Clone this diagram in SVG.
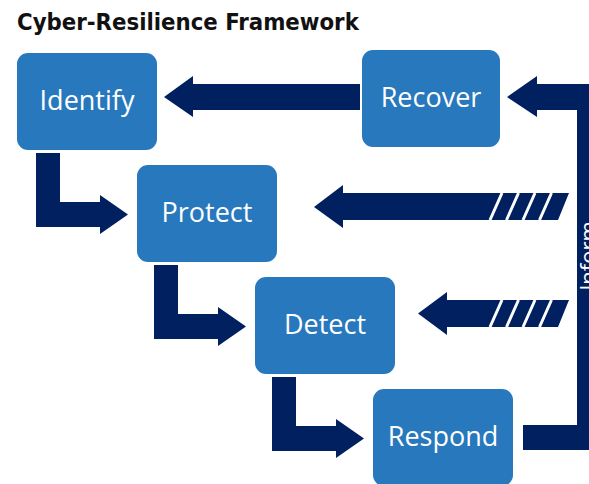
<svg xmlns="http://www.w3.org/2000/svg" width="589" height="484" viewBox="0 0 589 484">
  <style>
    .box { fill: #2878bd; }
    .lbl { fill: #ffffff; font-family: "Open Sans", "Noto Sans", sans-serif; font-size: 27px; text-anchor: middle; }
    .arr { fill: #002060; }
    .stripe { stroke: #ffffff; stroke-width: 3; fill: none; }
    .title { fill: #111111; font-family: "DejaVu Sans Condensed", "DejaVu Sans", sans-serif; font-stretch: condensed; font-weight: bold; font-size: 23.7px; }
  </style>
  <rect width="589" height="484" fill="#ffffff"/>
  <text class="title" x="17" y="30">Cyber-Resilience Framework</text>

  <g id="connectors">
    <!-- Recover -> Identify -->
    <polygon class="arr" points="360,84 360,110 193,110 193,117 164,97 193,76 193,84"/>
    <!-- Inform loop: Respond -> bar -> Recover -->
    <polygon class="arr" points="523,425 577,425 577,110 537,110 537,117 507,97 537,76 537,84 603,84 603,450 523,450"/>
    <!-- Inform -> Protect -->
    <polygon class="arr" points="569,193 558,220 343,220 343,228 314,207 343,185 343,193"/>
    <path class="stripe" d="M490,220 L502,193 M506.5,220 L518.5,193 M523,220 L535,193 M539.5,220 L551.5,193"/>
    <!-- Inform -> Detect -->
    <polygon class="arr" points="569,300 558,327 447,327 447,335 418,313.5 447,292 447,300"/>
    <path class="stripe" d="M490,327 L502,300 M506.5,327 L518.5,300 M523,327 L535,300 M539.5,327 L551.5,300"/>
    <!-- Identify -> Protect -->
    <polygon class="arr" points="36,153 60,153 60,202 100,202 100,195 128,214.5 100,234 100,227 36,227"/>
    <!-- Protect -> Detect -->
    <polygon class="arr" points="154,265 178,265 178,314 218,314 218,307 246,326.5 218,346 218,339 154,339"/>
    <!-- Detect -> Respond -->
    <polygon class="arr" points="272,377 296,377 296,426 336,426 336,419 364,438.5 336,458 336,451 272,451"/>
    <text x="0" y="0" transform="translate(596,256) rotate(-90)" style="fill:#ffffff;font-family:'Open Sans','Noto Sans',sans-serif;font-size:22px;text-anchor:middle">Inform</text>
  </g>

  <g id="identify">
    <rect class="box" x="17" y="53" width="140" height="97" rx="11"/>
    <text class="lbl" x="87" y="110">Identify</text>
  </g>
  <g id="recover">
    <rect class="box" x="362" y="50" width="138" height="97" rx="11"/>
    <text class="lbl" x="431" y="107">Recover</text>
  </g>
  <g id="protect">
    <rect class="box" x="137" y="165" width="140" height="97" rx="11"/>
    <text class="lbl" x="207" y="222">Protect</text>
  </g>
  <g id="detect">
    <rect class="box" x="255" y="277" width="140" height="97" rx="11"/>
    <text class="lbl" x="325" y="334">Detect</text>
  </g>
  <g id="respond">
    <rect class="box" x="373" y="389" width="140" height="97" rx="11"/>
    <text class="lbl" x="443" y="446">Respond</text>
  </g>
</svg>
